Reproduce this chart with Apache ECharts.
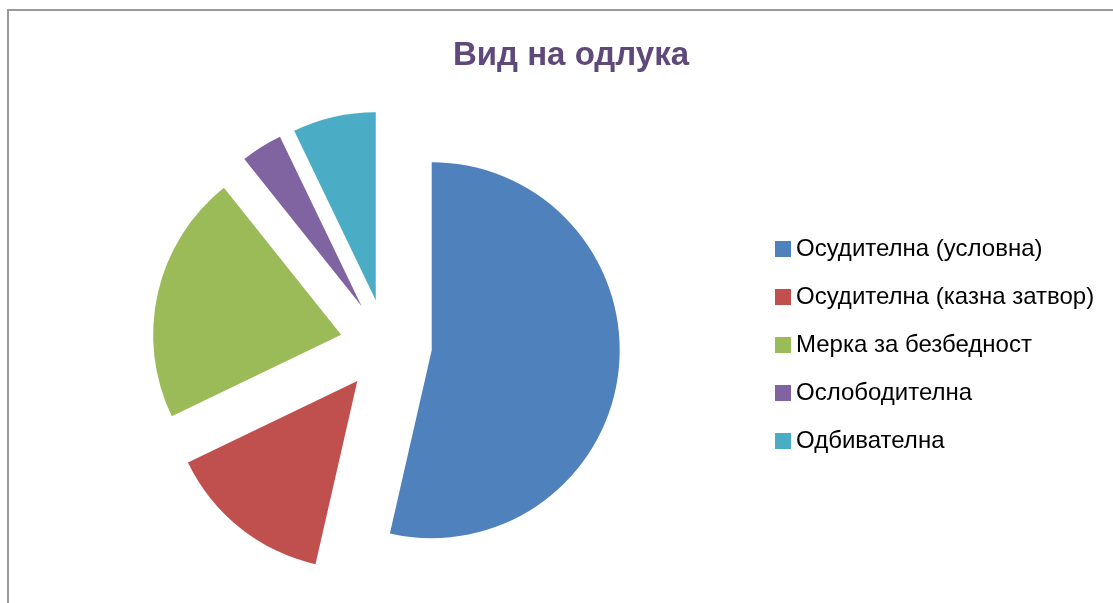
<!DOCTYPE html>
<html>
<head>
<meta charset="utf-8">
<script src="https://cdn.jsdelivr.net/npm/echarts@6/dist/echarts.min.js"></script>
<style>
  html, body { margin: 0; padding: 0; background: #fff; }
  #chart { width: 1113px; height: 603px; }
</style>
</head>
<body>
<div id="chart"></div>
<script>
const categories = ['Осудителна (условна)', 'Осудителна (казна затвор)', 'Мерка за безбедност', 'Ослободителна', 'Одбивателна'];
const values = [15, 4, 6, 1, 2];
const colors = ['#4F81BD', '#C0504D', '#9BBB59', '#8064A2', '#4BACC6'];

const chart = echarts.init(document.getElementById('chart'));

const option = {
  animation: false,
  color: colors,
  title: {
    text: 'Вид на одлука',
    left: 566,
    top: 34,
    textAlign: 'center',
    textStyle: { color: '#5F497A', fontFamily: 'Liberation Sans', fontWeight: 'bold', fontSize: 33 }
  },
  legend: {
    orient: 'vertical',
    left: 770,
    top: 232,
    icon: 'rect',
    itemWidth: 16,
    itemHeight: 16,
    itemGap: 24,
    selectedMode: false,
    data: categories,
    textStyle: { color: '#000', fontFamily: 'Liberation Sans', fontSize: 24 }
  },
  graphic: [{
    type: 'rect',
    shape: { x: 8, y: 10, width: 1300, height: 800 },
    style: { fill: 'none', stroke: '#9a9a9a', lineWidth: 2 },
    silent: true
  }],
  series: [{
    type: 'pie',
    center: [386, 345],
    radius: 188,
    startAngle: 90,
    clockwise: true,
    selectedMode: 'multiple',
    selectedOffset: 46,
    label: { show: false },
    labelLine: { show: false },
    emphasis: { disabled: true },
    itemStyle: { borderWidth: 0 },
    data: categories.map((name, i) => ({ name, value: values[i], selected: true }))
  }]
};

chart.setOption(option);
</script>
</body>
</html>
